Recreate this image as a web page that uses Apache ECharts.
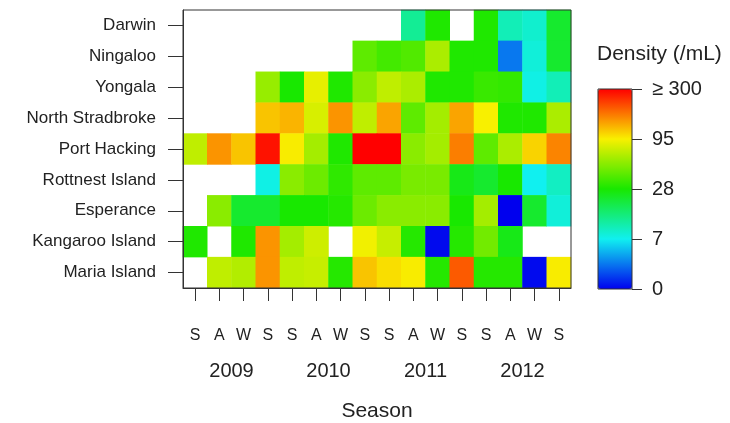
<!DOCTYPE html>
<html>
<head>
<meta charset="utf-8">
<script src="https://cdn.jsdelivr.net/npm/echarts@6/dist/echarts.min.js"></script>
<style>
  html, body { margin: 0; padding: 0; background: #fff; }
  #chart { width: 730px; height: 423px; }
</style>
</head>
<body>
<div id="chart"></div>
<script>
// ---- Data (densities per mL, null = no sample) ----
const stations = ['Darwin', 'Ningaloo', 'Yongala', 'North Stradbroke', 'Port Hacking',
                  'Rottnest Island', 'Esperance', 'Kangaroo Island', 'Maria Island'];
const seasons = ['S', 'A', 'W', 'S', 'S', 'A', 'W', 'S', 'S', 'A', 'W', 'S', 'S', 'A', 'W', 'S'];
const years = ['2009', '2010', '2011', '2012'];
const scaleTicks = [0, 7, 28, 95, 300];
const scaleLabels = ['0', '7', '28', '95', '\u2265 300'];

const darwin          = [null, null, null, null, null, null, null, null, null, 15, 30, null, 30, 12, 10, 24];
const ningaloo        = [null, null, null, null, null, null, null, 49, 41, 45, 72, 30, 30, 3.5, 9, 24];
const yongala         = [null, null, null, 66, 28, 90, 30, 62, 78, 72, 30, 30, 38, 36, 8, 12];
const northStradbroke = [null, null, null, 133, 146, 85, 174, 78, 160, 49, 70, 160, 95, 30, 30, 72];
const portHacking     = [78, 174, 133, 285, 98, 70, 30, 300, 300, 62, 70, 192, 49, 72, 120, 187];
const rottnestIsland  = [null, null, null, 8, 62, 53, 35, 49, 49, 57, 57, 26, 24, 28, 7, 11];
const esperance       = [null, 62, 24, 24, 28, 28, 32, 53, 62, 62, 62, 28, 70, 0, 24, 9];
const kangarooIsland  = [30, null, 30, 174, 70, 82, null, 93, 80, 32, 0.3, 32, 55, 26, null, null];
const mariaIsland     = [null, 78, 74, 174, 78, 80, 32, 133, 110, 98, 32, 223, 32, 32, 0.3, 98];

const densities = [darwin, ningaloo, yongala, northStradbroke, portHacking,
                   rottnestIsland, esperance, kangarooIsland, mariaIsland];

// position of a density on the colour scale (ticks equally spaced)
function scalePos(v) {
  const n = scaleTicks.length - 1;
  if (v >= scaleTicks[n]) return 1;
  for (let i = 0; i < n; i++) {
    if (v <= scaleTicks[i + 1]) {
      return (i + (v - scaleTicks[i]) / (scaleTicks[i + 1] - scaleTicks[i])) / n;
    }
  }
  return 1;
}

const cells = [];
densities.forEach((row, r) => {
  row.forEach((v, c) => {
    if (v !== null) cells.push([c, r, scalePos(v), v]);
  });
});

const FONT = '"Liberation Sans", Arial, Helvetica, sans-serif';
const INK = '#222';
const LINE = '#333';

const chart = echarts.init(document.getElementById('chart'), null, { renderer: 'canvas' });
chart.setOption({
  animation: false,
  backgroundColor: '#fff',
  textStyle: { fontFamily: FONT, color: INK },
  title: {
    text: 'Density (/mL)',
    left: 597, top: 44, padding: 0,
    textStyle: { fontFamily: FONT, fontSize: 21, fontWeight: 'normal', color: INK }
  },
  grid: [
    { left: 183, top: 10, width: 388, height: 278, show: true, borderColor: LINE, borderWidth: 1,
      backgroundColor: 'transparent', z: 6, outerBoundsMode: 'none', containLabel: false },
    { left: 598, top: 89, width: 34, height: 200, show: true, borderColor: LINE, borderWidth: 1,
      backgroundColor: 'transparent', z: 10, outerBoundsMode: 'none', containLabel: false }
  ],
  xAxis: [
    {
      gridIndex: 0, type: 'category', data: seasons, position: 'bottom',
      axisLine: { show: true, onZero: false, lineStyle: { color: LINE } },
      axisTick: { show: true, alignWithLabel: true, length: 13, lineStyle: { color: LINE } },
      axisLabel: { show: true, interval: 0, margin: 40, fontSize: 16, color: INK, fontFamily: FONT },
      splitLine: { show: false }, z: 6
    },
    {
      gridIndex: 0, type: 'category', data: years, position: 'bottom', offset: 0,
      axisLine: { show: false, onZero: false }, axisTick: { show: false },
      axisLabel: { show: true, interval: 0, margin: 73, fontSize: 20, color: INK, fontFamily: FONT },
      splitLine: { show: false },
      name: 'Season', nameLocation: 'middle', nameGap: 113,
      nameTextStyle: { fontSize: 21, color: INK, fontFamily: FONT }
    },
    { gridIndex: 1, type: 'value', min: 0, max: 1, show: false, axisLine: { onZero: false } }
  ],
  yAxis: [
    {
      gridIndex: 0, type: 'category', data: stations, inverse: true,
      axisLine: { show: true, onZero: false, lineStyle: { color: LINE } },
      axisTick: { show: true, alignWithLabel: true, length: 15, lineStyle: { color: LINE } },
      axisLabel: { show: true, interval: 0, margin: 27, fontSize: 17, color: INK, fontFamily: FONT },
      splitLine: { show: false }, z: 6
    },
    {
      gridIndex: 1, type: 'value', min: 0, max: 1, interval: 0.25, position: 'right', z: 12,
      axisLine: { show: false, onZero: false },
      axisTick: { show: true, inside: false, length: 10, lineStyle: { color: LINE, width: 1 } },
      axisLabel: {
        show: true, margin: 20, fontSize: 20, color: INK, fontFamily: FONT,
        showMinLabel: true, showMaxLabel: true,
        formatter: (v) => scaleLabels[Math.round(v * (scaleLabels.length - 1))]
      },
      splitLine: { show: false }
    }
  ],
  visualMap: {
    type: 'continuous', min: 0, max: 1, dimension: 2, seriesIndex: 0,
    calculable: false, hoverLink: false, text: null,
    left: 598, top: 89, itemWidth: 34, itemHeight: 200, padding: 0,
    inRange: { color: ['#0000ee', '#10f0f0', '#18e800', '#f8f000', '#ff0000'] }
  },
  series: [{
    type: 'heatmap', xAxisIndex: 0, yAxisIndex: 0,
    data: cells,
    itemStyle: { borderWidth: 0 },
    emphasis: { disabled: true }
  }]
});
</script>
</body>
</html>
